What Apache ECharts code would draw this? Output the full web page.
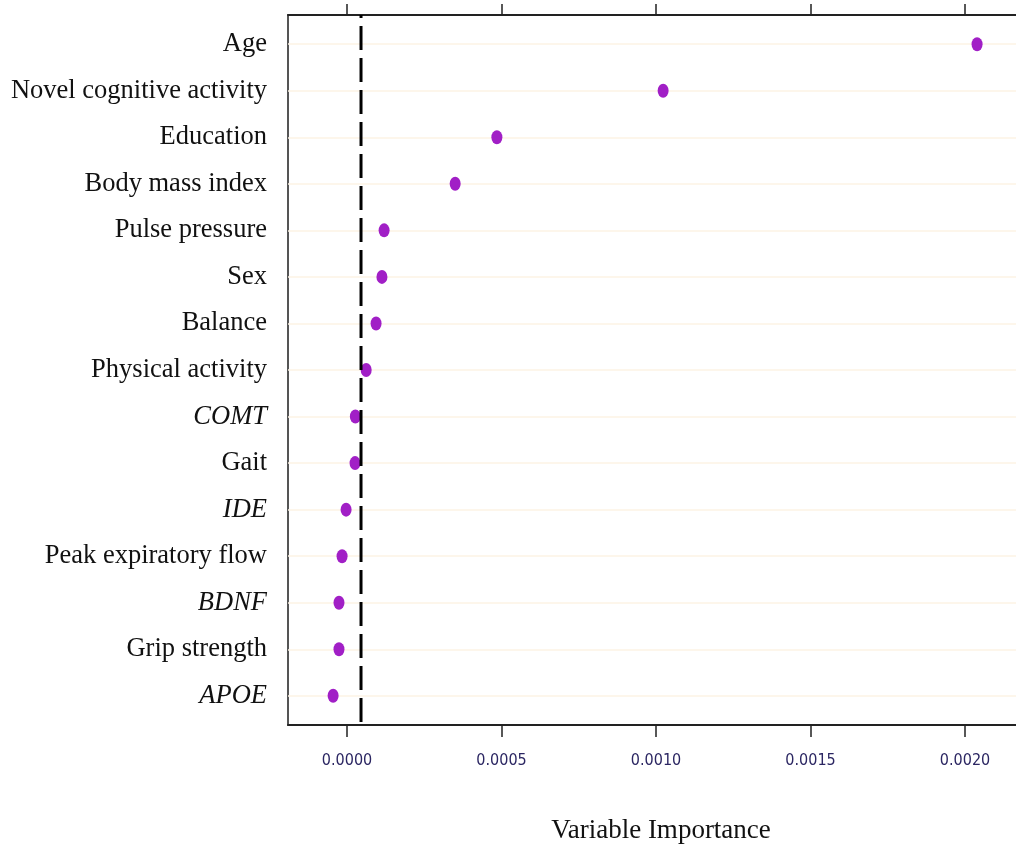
<!DOCTYPE html>
<html>
<head>
<meta charset="utf-8">
<script src="https://cdn.jsdelivr.net/npm/echarts@6/dist/echarts.min.js"></script>
<style>
  html, body { margin: 0; padding: 0; background: #fff; }
  #chart { width: 1016px; height: 848px; }
</style>
</head>
<body>
<div id="chart"></div>
<script>
// variables, top to bottom
const variables = [
  'Age', 'Novel cognitive activity', 'Education', 'Body mass index', 'Pulse pressure',
  'Sex', 'Balance', 'Physical activity', 'COMT', 'Gait',
  'IDE', 'Peak expiratory flow', 'BDNF', 'Grip strength', 'APOE'
];
const italicVars = ['COMT', 'IDE', 'BDNF', 'APOE'];
const importance = [
  0.002039, 0.001023, 0.000485, 0.000350, 0.000120,
  0.000113, 0.000094, 0.000062, 0.000027, 0.000026,
  -0.000003, -0.000016, -0.000026, -0.000026, -0.000045
];
const cutoff = 0.0000453;
const xTicks = [0, 0.0005, 0.001, 0.0015, 0.002];
const xTickLabels = ['0.0000', '0.0005', '0.0010', '0.0015', '0.0020'];

const chart = echarts.init(document.getElementById('chart'));

const rows = variables.map((_, i) => i);
const xMin = -0.000191, xMax = 0.002165;
const yMin = -0.627, yMax = 14.627;
const serif = 'Liberation Serif';

const option = {
  animation: false,
  title: {
    text: 'Variable Importance', left: 656, top: 812, textAlign: 'center',
    textStyle: { fontFamily: serif, fontSize: 27, fontWeight: 'normal', color: '#111' }
  },
  grid: { left: 288, right: 0, top: 15, bottom: 123 },
  xAxis: [
    {
      type: 'value', position: 'bottom', min: xMin, max: xMax,
      axisLine: { show: true, onZero: false, lineStyle: { color: '#222', width: 2 } },
      axisTick: { show: true, customValues: xTicks, length: 12, lineStyle: { color: '#222', width: 1.5 } },
      axisLabel: {
        customValues: xTicks, margin: 28,
        formatter: v => xTickLabels[xTicks.findIndex(t => Math.abs(t - v) < 1e-9)],
        fontFamily: 'DejaVu Sans Condensed', fontSize: 16, color: '#2b2662'
      },
      splitLine: { show: false }
    },
    {
      type: 'value', position: 'top', min: xMin, max: xMax,
      axisLine: { show: true, onZero: false, lineStyle: { color: '#222', width: 2 } },
      axisTick: { show: true, customValues: xTicks, length: 11, lineStyle: { color: '#222', width: 1.5 } },
      axisLabel: { show: false },
      splitLine: { show: false }
    }
  ],
  yAxis: {
    type: 'value', inverse: true, min: yMin, max: yMax,
    axisLine: { show: true, onZero: false, lineStyle: { color: '#555', width: 2 } },
    axisTick: { show: false },
    splitLine: { show: false },
    axisLabel: {
      customValues: rows, margin: 21,
      formatter: v => {
        const name = variables[Math.round(v)];
        return italicVars.includes(name) ? '{it|' + name + '}' : name;
      },
      fontFamily: serif, fontSize: 26.5, color: '#111',
      rich: { it: { fontFamily: serif, fontSize: 26.5, fontStyle: 'italic', color: '#111' } }
    }
  },
  series: [
    {
      // faint row guides
      type: 'scatter', symbolSize: 0, silent: true, z: 1,
      data: rows.map(r => [xMin, r]),
      markLine: {
        silent: true, symbol: 'none', label: { show: false }, animation: false, z: 1,
        lineStyle: { color: '#fcf3e4', width: 1.5, type: 'solid' },
        data: rows.map(r => ({ yAxis: r }))
      }
    },
    {
      type: 'scatter', z: 3,
      data: importance.map((v, i) => [v, i]),
      symbol: 'circle', symbolSize: [11, 14],
      itemStyle: { color: '#a11fc6', opacity: 1 }
    },
    {
      type: 'line', z: 4, silent: true, symbol: 'none',
      data: [[cutoff, yMin], [cutoff, yMax]],
      lineStyle: { color: '#000', width: 3, type: [24, 8], dashOffset: 21 }
    }
  ]
};

chart.setOption(option);
</script>
</body>
</html>
